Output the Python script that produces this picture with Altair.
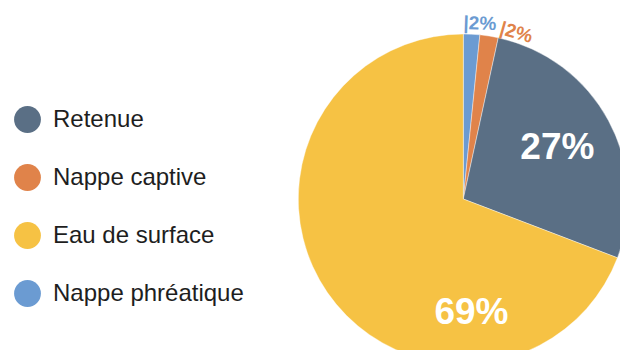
import altair as alt
import pandas as pd

# Data (pie order, clockwise from 12 o'clock)
categories = ["Nappe phréatique", "Nappe captive", "Retenue", "Eau de surface"]
shares = [1.6, 1.8, 27.4, 69.2]

# Legend order and colours
legend_order = ["Retenue", "Nappe captive", "Eau de surface", "Nappe phréatique"]
legend_colors = ["#5a6f85", "#e0834a", "#f6c244", "#6b9bd2"]

df = pd.DataFrame({
    "source": categories,
    "share": shares,
    "rank": list(range(len(categories))),
})

FONT = "Liberation Sans"
CX, CY = 455.3, 191
R = 165
theta_scale = alt.Scale(domain=[0, 100])

color = alt.Color(
    "source:N",
    scale=alt.Scale(domain=legend_order, range=legend_colors),
    legend=alt.Legend(
        orient="none", legendX=6, legendY=98, title=None,
        symbolType="circle", symbolSize=720, symbolStrokeWidth=0,
        symbolOpacity=1, labelFont=FONT, labelFontSize=24,
        labelColor="#1e1e1e", rowPadding=31, labelOffset=12,
        labelLimit=300,
    ),
)

base = alt.Chart(df).encode(x=alt.value(CX), y=alt.value(CY))

arcs = base.mark_arc(outerRadius=R, stroke="white", strokeWidth=0.4).encode(
    theta=alt.Theta("share:Q", stack=True, scale=theta_scale),
    color=color,
    order=alt.Order("rank:Q"),
)

labelled = base.transform_window(
    cum="sum(share)", sort=[alt.SortField("rank")]
).transform_calculate(
    mid="datum.cum - datum.share / 2",
    label="format(round(datum.share), 'd') + '%'",
    small="'|' + format(round(datum.share), 'd') + '%'",
)

big27 = labelled.transform_filter(alt.datum.source == "Retenue").mark_text(
    radius=107, font=FONT, fontSize=37, fontWeight="bold", color="white",
    align="center", baseline="middle",
).encode(
    theta=alt.Theta("mid:Q", scale=theta_scale),
    text="label:N",
)

big69 = labelled.transform_filter(alt.datum.source == "Eau de surface").mark_text(
    theta=3.07, radius=114, font=FONT, fontSize=37, fontWeight="bold",
    color="white", align="center", baseline="middle",
).encode(text="label:N")

small_blue = labelled.transform_filter(alt.datum.source == "Nappe phréatique").mark_text(
    theta=0.0, radius=170, angle=2, font=FONT, fontSize=19, fontWeight="bold",
    color=legend_colors[3], align="left", baseline="alphabetic",
).encode(text="small:N")

small_orange = labelled.transform_filter(alt.datum.source == "Nappe captive").mark_text(
    theta=0.212, radius=169, angle=16, font=FONT, fontSize=19, fontWeight="bold",
    color=legend_colors[1], align="left", baseline="alphabetic",
).encode(text="small:N")

chart = alt.layer(arcs, big27, big69, small_blue, small_orange).properties(
    width=612, height=342, padding=0, autosize="none",
).configure_view(stroke=None)

chart.save("out.html", embed_options={"renderer": "svg", "actions": False})
